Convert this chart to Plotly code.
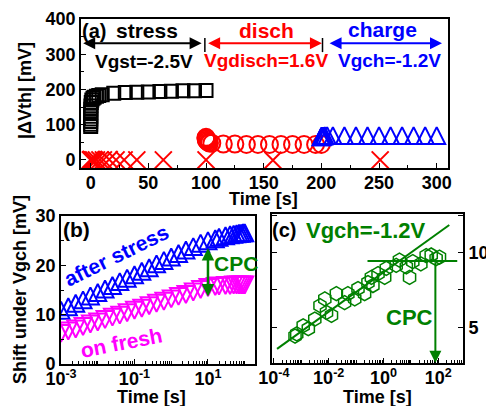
import numpy as np
import plotly.graph_objects as go

FONT = "Liberation Sans"
BLACK, RED, BLUE, MAGENTA, GREEN = "#000000", "#FF0000", "#0000FF", "#FF00FF", "#008000"

# ---------------- Panel (a): |dVth| during stress / discharge / charge ----------------
stress_time_s = [0.001, 0.002, 0.005, 0.01, 0.02, 0.05, 0.1, 0.2, 0.5, 1, 2, 3, 5, 7,
                 10, 20, 30, 40, 50, 60, 70, 80, 90, 100]
stress_dvth_mV = [95, 101, 109, 116, 124, 135, 144, 153, 163, 170, 175, 178, 181, 183,
                  185, 189, 191, 192, 193, 194, 195, 196, 196, 197]

disch_time_s = [100.001, 100.01, 100.1, 100.3, 101, 102, 103, 105, 115, 125, 135, 145,
                155, 165, 175, 185, 195, 200]
disch_dvth_mV = [64, 62, 59, 56, 53, 50, 48, 47, 45, 45, 44, 44, 44, 44, 44, 44, 44, 44]

charge_time_s = [200.001, 200.01, 200.1, 200.5, 201, 202, 203, 205, 210, 220, 230, 240,
                 250, 260, 270, 280, 290, 300]
charge_dvth_mV = [66, 66, 67, 67, 68, 68, 69, 69, 69, 69, 69, 69, 69, 69, 69, 69, 69, 69]

control_time_s = [0.001, 0.01, 0.1, 0.5, 1, 2, 3, 5, 8, 11, 16, 22, 29, 40, 63, 100, 158, 251]
control_dvth_mV = [0, 0, 0, 1, 0, 0, -1, 0, 0, 0, 1, 0, 0, 0, 0, 0, -1, 0]

phase_edges_s = [99, 201]

# ---------------- Panel (b): shift under Vgch ----------------
shift_time_s = [0.001, 0.00158, 0.00251, 0.00398, 0.00631, 0.01, 0.0158, 0.0251, 0.0398,
                0.0631, 0.1, 0.158, 0.251, 0.398, 0.631, 1, 1.58, 2.51, 3.98, 6.31, 10,
                15.8, 20, 30, 40, 50, 60, 70, 80, 90, 100]
after_stress_mV = [10.9, 11.6, 12.3, 13.0, 13.8, 14.5, 15.2, 15.9, 16.7, 17.4, 18.1, 18.8,
                   19.5, 20.3, 21.0, 21.7, 22.4, 23.1, 23.8, 24.5, 25.0, 25.4, 25.7, 26.0,
                   26.2, 26.3, 26.4, 26.5, 26.5, 26.6, 26.6]
on_fresh_mV = [6.2, 6.7, 7.1, 7.6, 8.1, 8.5, 9.0, 9.5, 9.9, 10.4, 10.9, 11.3, 11.8, 12.3,
               12.7, 13.2, 13.7, 14.1, 14.6, 15.1, 15.5, 15.7, 15.8, 15.9, 15.9, 16.0,
               16.0, 16.0, 16.0, 16.0, 16.0]
cpc_b_time_s = 10
cpc_b_range_mV = [13.4, 23.5]

# ---------------- Panel (c): CPC under Vgch=-1.2V ----------------
cpc_time_s = [5.9e-4, 6.8e-4, 1.17e-3, 1.8e-3, 3.1e-3, 4.8e-3, 7.2e-3, 8.3e-3, 0.0126,
              0.019, 0.038, 0.050, 0.089, 0.117, 0.204, 0.27, 0.36, 0.41, 0.63, 1.1,
              1.26, 2.9, 3.8, 6.8, 8.9, 11.7, 23, 36, 55, 83, 110]
cpc_mV = [4.4, 4.55, 5.1, 4.9, 5.55, 6.45, 6.9, 6.0, 5.8, 7.25, 6.65, 7.25, 6.9, 7.6,
          7.25, 8.0, 8.35, 7.8, 8.6, 8.35, 8.95, 9.15, 9.5, 9.05, 8.35, 9.4, 9.25, 9.8,
          9.85, 9.6, 9.7]
fit_time_s = [1.3e-4, 251]
fit_mV = [3.55, 11.86]
sat_time_s = [0.26, 490]
sat_mV = [9.44, 9.44]
cpc_c_time_s = 78
cpc_c_bottom_mV = 2.62

# ticks
a_x_ticks = [0, 50, 100, 150, 200, 250, 300]
a_y_ticks = [0, 100, 200, 300, 400]
b_x_tickvals = [1e-3, 1e-1, 1e1]
b_x_ticktext = ["10<sup>-3</sup>", "10<sup>-1</sup>", "10<sup>1</sup>"]
c_x_tickvals = [1e-4, 1e-2, 1e0, 1e2]
c_x_ticktext = ["10<sup>-4</sup>", "10<sup>-2</sup>", "10<sup>0</sup>", "10<sup>2</sup>"]

# the page body adds an 8 px margin, so the figure is 8 px smaller and positions are shifted
OFF = 8
W, H = 494 - OFF, 406 - OFF


def px_dom(p0, p1, total, flip=False):
    p0, p1 = p0 - OFF, p1 - OFF
    if flip:
        return [1 - p1 / total, 1 - p0 / total]
    return [p0 / total, p1 / total]


def tri_up(color, size):
    return dict(symbol="arrow-down-open", angle=180, standoff=size / 2, size=size,
                color=color, line=dict(color=color, width=2))


def tri_down(color, size):
    return dict(symbol="arrow-down-open", angle=0, standoff=size / 2, size=size,
                color=color, line=dict(color=color, width=2))


fig = go.Figure()

# ---- panel (a)
fig.add_trace(go.Scatter(x=stress_time_s, y=stress_dvth_mV, mode="markers", xaxis="x", yaxis="y",
                         marker=dict(symbol="square-open", size=13, color=BLACK,
                                     line=dict(color=BLACK, width=2)), name="stress"))
fig.add_trace(go.Scatter(x=disch_time_s, y=disch_dvth_mV, mode="markers", xaxis="x", yaxis="y",
                         marker=dict(symbol="circle-open", size=17, color=RED,
                                     line=dict(color=RED, width=2)), name="disch"))
fig.add_trace(go.Scatter(x=charge_time_s, y=charge_dvth_mV, mode="markers", xaxis="x", yaxis="y",
                         marker=tri_up(BLUE, 17), name="charge"))
fig.add_trace(go.Scatter(x=control_time_s, y=control_dvth_mV, mode="markers", xaxis="x", yaxis="y",
                         marker=dict(symbol="x-thin-open", size=17, color=RED,
                                     line=dict(color=RED, width=2)), name="control"))

# ---- panel (b)
fig.add_trace(go.Scatter(x=shift_time_s, y=after_stress_mV, mode="markers", xaxis="x2", yaxis="y2",
                         marker=tri_up(BLUE, 17), name="after stress"))
fig.add_trace(go.Scatter(x=shift_time_s, y=on_fresh_mV, mode="markers", xaxis="x2", yaxis="y2",
                         marker=tri_down(MAGENTA, 17), name="on fresh"))

# ---- panel (c)
fig.add_trace(go.Scatter(x=cpc_time_s, y=cpc_mV, mode="markers", xaxis="x3", yaxis="y3",
                         marker=dict(symbol="hexagon-open", size=14, color=GREEN,
                                     line=dict(color=GREEN, width=1.5)), name="CPC"))
fig.add_trace(go.Scatter(x=fit_time_s, y=fit_mV, mode="lines", xaxis="x3", yaxis="y3",
                         line=dict(color=GREEN, width=2), name="fit"))
fig.add_trace(go.Scatter(x=sat_time_s, y=sat_mV, mode="lines", xaxis="x3", yaxis="y3",
                         line=dict(color=GREEN, width=2), name="sat"))

tickfont = dict(family=FONT, size=18, color=BLACK, weight="bold")
axis_common = dict(showgrid=False, zeroline=False, showline=True, linecolor=BLACK, linewidth=1.6,
                   ticks="inside", tickcolor=BLACK, tickwidth=1.3, ticklen=5, tickfont=tickfont,
                   mirror=True, automargin=False)
xaxis_common = dict(axis_common, ticklabelstandoff=-2)

fig.update_layout(
    width=W, height=H, margin=dict(l=0, r=0, t=0, b=0),
    paper_bgcolor="white", plot_bgcolor="white", showlegend=False,
    xaxis=dict(xaxis_common, domain=px_dom(81, 448, W), range=[-8.4, 309.8], anchor="y",
               tickvals=a_x_ticks, minor=dict(dtick=25, tick0=0, ticks="inside", ticklen=3,
                                              tickcolor=BLACK)),
    yaxis=dict(axis_common, domain=px_dom(19, 168, H, flip=True), range=[-23, 400], anchor="x",
               tickvals=a_y_ticks, minor=dict(dtick=50, tick0=0, ticks="inside", ticklen=3,
                                              tickcolor=BLACK)),
    xaxis2=dict(xaxis_common, domain=px_dom(61, 255, W), type="log", range=[-3, 2.28], anchor="y2",
                tickmode="array", tickvals=b_x_tickvals, ticktext=b_x_ticktext,
                minor=dict(tickmode="array",
                           tickvals=[m * 10.0 ** e for e in range(-3, 3) for m in range(1, 10)],
                           ticks="inside", ticklen=3, tickcolor=BLACK)),
    yaxis2=dict(axis_common, domain=px_dom(216, 364, H, flip=True), range=[0, 30], anchor="x2",
                dtick=10, tick0=0, minor=dict(dtick=5, tick0=0, ticks="inside", ticklen=3,
                                              tickcolor=BLACK)),
    xaxis3=dict(xaxis_common, domain=px_dom(272, 463, W), type="log", range=[-4.07, 2.9], anchor="y3",
                tickmode="array", tickvals=c_x_tickvals, ticktext=c_x_ticktext,
                minor=dict(tickmode="array",
                           tickvals=[m * 10.0 ** e for e in range(-5, 3) for m in range(1, 10)],
                           ticks="inside", ticklen=3, tickcolor=BLACK)),
    yaxis3=dict(axis_common, domain=px_dom(214, 363, H, flip=True), range=[2.6, 12.6], anchor="x3",
                side="right", dtick=5, tick0=0, mirror="ticks",
                minor=dict(dtick=2.5, tick0=0, ticks="inside", ticklen=5, tickcolor=BLACK)),
)


def label(text, x, y, xref, yref, color=BLACK, size=20, angle=0):
    fig.add_annotation(text=text, x=x, y=y, xref=xref, yref=yref, showarrow=False,
                       textangle=angle, xanchor="center", yanchor="middle",
                       font=dict(family=FONT, size=size, color=color, weight="bold"))


def title_px(text, px, py, angle=0, size=18):
    label(text, (px - OFF) / W, 1 - (py - OFF) / H, "paper", "paper", size=size, angle=angle)


def arrow(x0, y0, x1, y1, xref, yref, color, both=False, width=2, size=1.2):
    fig.add_annotation(x=x1, y=y1, ax=x0, ay=y0, xref=xref, yref=yref, axref=xref, ayref=yref,
                       text="", showarrow=True, arrowhead=2, startarrowhead=2,
                       arrowside="end+start" if both else "end", arrowcolor=color,
                       arrowwidth=width, arrowsize=size, startarrowsize=size,
                       standoff=0, startstandoff=0)


# axis titles
title_px("|ΔVth| [mV]", 25, 91, angle=-90)
title_px("Time [s]", 263, 199)
title_px("Shift under Vgch [mV]", 20, 290, angle=-90)
title_px("Time [s]", 151, 397)
title_px("Time [s]", 377, 397)

# panel (a) labels & phase arrows
label("(a)", 2.9, 366, "x", "y", size=20)
label("stress", 49.2, 366, "x", "y", size=21)
label("Vgst=-2.5V", 46.2, 278, "x", "y", size=19)
label("disch", 152, 366, "x", "y", color=RED, size=21)
label("Vgdisch=1.6V", 151.6, 281, "x", "y", color=RED, size=19)
label("charge", 253.4, 369, "x", "y", color=BLUE, size=21)
label("Vgch=-1.2V", 259, 281, "x", "y", color=BLUE, size=19)
arrow(-7.8, 331, 96.2, 331, "x", "y", BLACK, both=True)
arrow(100.5, 331, 200.5, 331, "x", "y", RED, both=True)
arrow(205.8, 331, 304.6, 331, "x", "y", BLUE, both=True)
for t in phase_edges_s:
    fig.add_shape(type="line", xref="x", yref="y", x0=t, x1=t, y0=306, y1=346,
                  line=dict(color=BLACK, width=1.5))

# panel (b)
label("(b)", -2.59, 27.2, "x2", "y2", size=21)
label("after stress", -1.5, 21.9, "x2", "y2", color=BLUE, size=21, angle=-26)
label("on fresh", -1.34, 4.3, "x2", "y2", color=MAGENTA, size=21, angle=-11)
label("CPC", 1.75, 20.4, "x2", "y2", color=GREEN, size=21)
arrow(np.log10(cpc_b_time_s), cpc_b_range_mV[0], np.log10(cpc_b_time_s), cpc_b_range_mV[1],
      "x2", "y2", GREEN, both=True, width=2.5, size=1.0)

# panel (c)
label("(c)", -3.63, 11.52, "x3", "y3", size=20)
label("Vgch=-1.2V", -0.65, 11.52, "x3", "y3", color=GREEN, size=22)
label("CPC", 0.95, 5.64, "x3", "y3", color=GREEN, size=22)
arrow(np.log10(cpc_c_time_s), sat_mV[0], np.log10(cpc_c_time_s), cpc_c_bottom_mV,
      "x3", "y3", GREEN, width=2, size=1.2)

fig.write_html("out.html")
